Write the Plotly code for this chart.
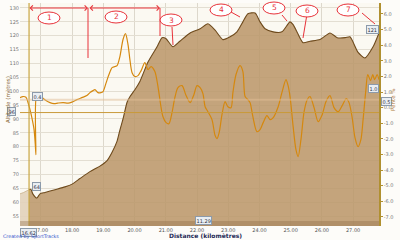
import plotly.graph_objects as go

# ---------------- data ----------------
pre_km = [16.33, 16.45, 16.62]
pre_elev = [63.0, 63.5, 64.5]

elev_km = [16.62, 16.68, 16.74, 16.87, 16.97, 17.13, 17.45, 17.77, 18.0, 18.25, 18.57, 18.89,
           19.12, 19.28, 19.44, 19.53, 19.63, 19.76, 19.85, 20.01, 20.17, 20.43, 20.72, 20.88,
           21.0, 21.23, 21.45, 21.78, 22.1, 22.35, 22.58, 22.83, 23.06, 23.28, 23.47, 23.63,
           23.86, 24.02, 24.18, 24.44, 24.72, 24.98, 25.08, 25.24, 25.4, 25.62, 25.94, 26.26,
           26.49, 26.75, 26.9, 27.16, 27.38, 27.64, 27.83]
elev_m = [64.5, 64.6, 63.0, 61.5, 63.0, 63.5, 64.5, 65.5, 66.5, 68.5, 71.0, 73.0,
          75.0, 78.0, 82.0, 86.0, 90.0, 96.0, 98.0, 100.5, 103.5, 110.5, 116.0, 119.3,
          119.0, 116.0, 118.0, 121.0, 122.5, 124.3, 122.0, 118.6, 119.6, 121.4, 125.0, 127.9,
          128.2, 125.0, 122.5, 121.4, 121.4, 125.0, 124.0, 120.5, 117.5, 118.0, 118.6, 121.0,
          119.3, 119.3, 119.6, 114.0, 112.0, 116.0, 121.0]

slope_km = [16.33, 16.42, 16.52, 16.58, 16.65, 16.71, 16.78, 16.82, 16.84, 16.85, 16.90, 17.03,
            17.16, 17.29, 17.42, 17.54, 17.71, 17.87, 17.99, 18.15, 18.31, 18.47, 18.57, 18.67,
            18.73, 18.83, 18.92, 18.99, 19.08, 19.18, 19.28, 19.37, 19.44, 19.53, 19.63, 19.71,
            19.79, 19.85, 19.92, 20.01, 20.11, 20.21, 20.33, 20.43, 20.53, 20.65, 20.75, 20.85,
            20.91, 21.01, 21.10, 21.20, 21.29, 21.39, 21.52, 21.65, 21.78, 21.90, 22.0, 22.10,
            22.19, 22.26, 22.35, 22.48, 22.58, 22.64, 22.71, 22.80, 22.90, 22.99, 23.09, 23.15,
            23.25, 23.38, 23.47, 23.54, 23.63, 23.70, 23.79, 23.92, 24.02, 24.12, 24.24, 24.34,
            24.44, 24.60, 24.72, 24.85, 24.91, 24.98, 25.08, 25.17, 25.24, 25.33, 25.43, 25.53,
            25.62, 25.75, 25.88, 26.01, 26.13, 26.26, 26.39, 26.52, 26.65, 26.78, 26.87, 26.97,
            27.06, 27.16, 27.25, 27.32, 27.41, 27.47, 27.56, 27.63, 27.69, 27.77, 27.83]
slope_pct = [0.64, 0.71, 0.67, 0.38, -0.13, -0.64, -1.41, -2.37, -3.01, 0.64, 0.71, 0.64,
             0.45, 0.32, 0.26, 0.29, 0.32, 0.29, 0.35, 0.51, 0.64, 0.77, 0.96, 1.09,
             1.15, 0.96, 0.96, 1.03, 1.54, 2.12, 2.56, 2.63, 2.69, 3.27, 4.36, 4.74,
             4.04, 3.08, 2.24, 1.99, 2.05, 2.37, 2.88, 2.44, 2.63, 2.31, 1.35, 0.0,
             -0.58, -0.96, -1.03, -0.32, 0.64, 1.28, 1.41, 0.77, 0.32, 0.83, 1.41, 1.28,
             0.90, 0.06, -0.26, -0.77, -1.79, -1.99, -1.60, -0.45, 0.38, 0.06, 0.0, 0.96,
             2.12, 2.69, 2.31, 0.71, 0.51, 0.32, -0.58, -1.54, -1.41, -0.96, -0.51, -0.77,
             -0.64, 0.06, 0.96, 1.79, 1.47, 0.71, -1.22, -2.69, -3.14, -2.05, -0.26, 0.51,
             0.71, 0.0, -0.90, -0.45, 0.38, 0.77, 0.0, -0.26, 0.13, 0.58, 0.32, -0.64,
             -1.92, -2.50, -2.05, -0.77, 1.15, 2.12, 1.73, 2.12, 1.79, 2.12, 1.79]

x_ticks = [17, 18, 19, 20, 21, 22, 23, 24, 25, 26, 27]
x_tick_labels = ["17.00", "18.00", "19.00", "20.00", "21.00", "22.00", "23.00",
                 "24.00", "25.00", "26.00", "27.00"]
left_ticks = list(range(55, 131, 5))
right_ticks = [6, 5, 4, 3, 2, 1, 0, -1, -2, -3, -4, -5, -6, -7]
right_tick_labels = ["6.0", "5.0", "4.0", "3.0", "2.0", "1.0", "0.0", "-1.0", "-2.0",
                     "-3.0", "-4.0", "-5.0", "-6.0", "-7.0"]
cursor_km = 16.62
avg_line_elev = 92.3
light_line_elev = 96.9
marker_labels = ["1", "2", "3", "4", "5", "6", "7"]

# ---------------- layout geometry ----------------
W, H = 400, 240
PL, PR, PT, PB = 20, 379, 3, 226


def fx(px):
    return (px - PL) / (PR - PL)


def fy(py):
    return (PB - py) / (PB - PT)


FONT = "DejaVu Sans"
fig = go.Figure()

fig.add_trace(go.Scatter(x=pre_km, y=pre_elev, mode="lines", fill="tozeroy",
                         fillcolor="rgba(226,210,186,0.9)", line=dict(color="#C9B08A", width=0.8),
                         hoverinfo="skip", showlegend=False))
fig.add_trace(go.Scatter(x=elev_km, y=elev_m, mode="lines", fill="tozeroy",
                         fillcolor="rgba(186,150,105,0.86)",
                         line=dict(color="#6E4A1C", width=1.1, shape="spline", smoothing=0.6),
                         showlegend=False))
fig.add_trace(go.Scatter(x=slope_km, y=slope_pct, yaxis="y2", mode="lines",
                         line=dict(color="#D5880E", width=1.2, shape="spline", smoothing=0.8),
                         showlegend=False))

shapes = []
shapes.append(dict(type="line", xref="x", yref="paper", x0=cursor_km, x1=cursor_km, y0=0, y1=1,
                   line=dict(color="#C9A640", width=1.2)))
shapes.append(dict(type="line", xref="paper", yref="y", x0=0, x1=1, y0=avg_line_elev,
                   y1=avg_line_elev, line=dict(color="#C99A3A", width=1)))
shapes.append(dict(type="line", xref="paper", yref="y", x0=0, x1=1, y0=light_line_elev,
                   y1=light_line_elev, line=dict(color="rgba(225,190,150,0.5)", width=2)))
shapes.append(dict(type="rect", xref="paper", yref="paper", x0=0, x1=1, y0=0, y1=fy(221),
                   fillcolor="rgba(140,105,70,0.35)", line=dict(width=0), layer="above"))
red = "#E8323A"
for (x0, y0, x1, y1) in [(88, 8, 88, 58), (160, 8, 160, 36), (172, 27, 173, 45),
                         (231, 12, 240, 17), (282, 15, 287, 21), (307, 14, 303, 38),
                         (362, 13, 375, 24)]:
    shapes.append(dict(type="line", xref="paper", yref="paper", x0=fx(x0), y0=fy(y0),
                       x1=fx(x1), y1=fy(y1), line=dict(color=red, width=1)))
ell = [(49, 18), (116, 17), (171, 20), (221, 10), (274, 8), (307, 11), (348, 10)]
annotations = []
for (cx, cy), lab in zip(ell, marker_labels):
    shapes.append(dict(type="circle", xref="paper", yref="paper", x0=fx(cx - 11), x1=fx(cx + 11),
                       y0=fy(cy + 6), y1=fy(cy - 6), line=dict(color=red, width=1),
                       fillcolor="rgba(255,255,255,0.95)", layer="above"))
    annotations.append(dict(xref="paper", yref="paper", x=fx(cx), y=fy(cy), text=lab,
                            xanchor="center", yanchor="middle", showarrow=False,
                            font=dict(family=FONT, size=7.5, color=red)))

for (xa, xb) in [(28, 88), (88, 160)]:
    annotations.append(dict(xref="paper", yref="paper", x=fx(xb), y=fy(8), ax=xa - xb, ay=0,
                            text="", showarrow=True, arrowhead=4, arrowside="end+start",
                            arrowsize=1, arrowwidth=1, arrowcolor=red))


def box(x, y, text):
    annotations.append(dict(xref="paper", yref="paper", x=fx(x), y=fy(y), text=text,
                            showarrow=False, xanchor="center", yanchor="middle",
                            font=dict(family=FONT, size=5, color="#334"),
                            bgcolor="#E9EEF3", bordercolor="#8C9AAA", borderwidth=1, borderpad=0.5))


box(37, 96, "0.4")
box(11, 112, "96")
box(36, 186, "64")
box(373, 88, "1.0")
box(386, 101, "0.5")
box(372, 29, "121")
box(203, 220, "11.29")
box(28, 232, "16.62")


def label(x, y, text, size, color, angle=0, xanchor="center"):
    annotations.append(dict(xref="paper", yref="paper", x=fx(x), y=fy(y), text=text,
                            showarrow=False, xanchor=xanchor, yanchor="middle", textangle=angle,
                            font=dict(family=FONT, size=size, color=color)))


label(205, 235.5, "<b>Distance (kilomètres)</b>", 6, "#1E2A55")
label(8, 100, "Altitude (mètres)", 5.5, "#8A6A3A", angle=-90)
label(393, 100, "Pente %", 5.5, "#B07A3A", angle=-90)
label(1, 237, "Created by SportTracks", 4.8, "#3355CC", xanchor="left")

fig.update_layout(
    width=W, height=H, autosize=False,
    margin=dict(l=PL, r=W - PR, t=PT, b=H - PB, pad=0),
    paper_bgcolor="#FDFCF9", plot_bgcolor="#FBF9F2",
    font=dict(family=FONT, size=6, color="#666"),
    xaxis=dict(range=[16.33, 27.83], tickvals=x_ticks, ticktext=x_tick_labels,
               showgrid=True, gridcolor="#DDD8CC", gridwidth=1, zeroline=False,
               ticks="", tickfont=dict(size=5, color="#555"), showline=False),
    yaxis=dict(range=[51.4, 131.8], tickvals=left_ticks, showgrid=True, gridcolor="#E3DED2",
               zeroline=False, ticks="", tickfont=dict(size=5, color="#777"), showline=False),
    yaxis2=dict(range=[-7.58, 6.70], overlaying="y", side="right", tickvals=right_ticks,
                ticktext=right_tick_labels, showgrid=False, zeroline=False, ticks="outside",
                ticklen=2, tickcolor="#B09030", tickfont=dict(size=5, color="#777"),
                showline=True, linecolor="#B09030", linewidth=1.5),
    shapes=shapes, annotations=annotations,
)

fig.write_html("out.html")
